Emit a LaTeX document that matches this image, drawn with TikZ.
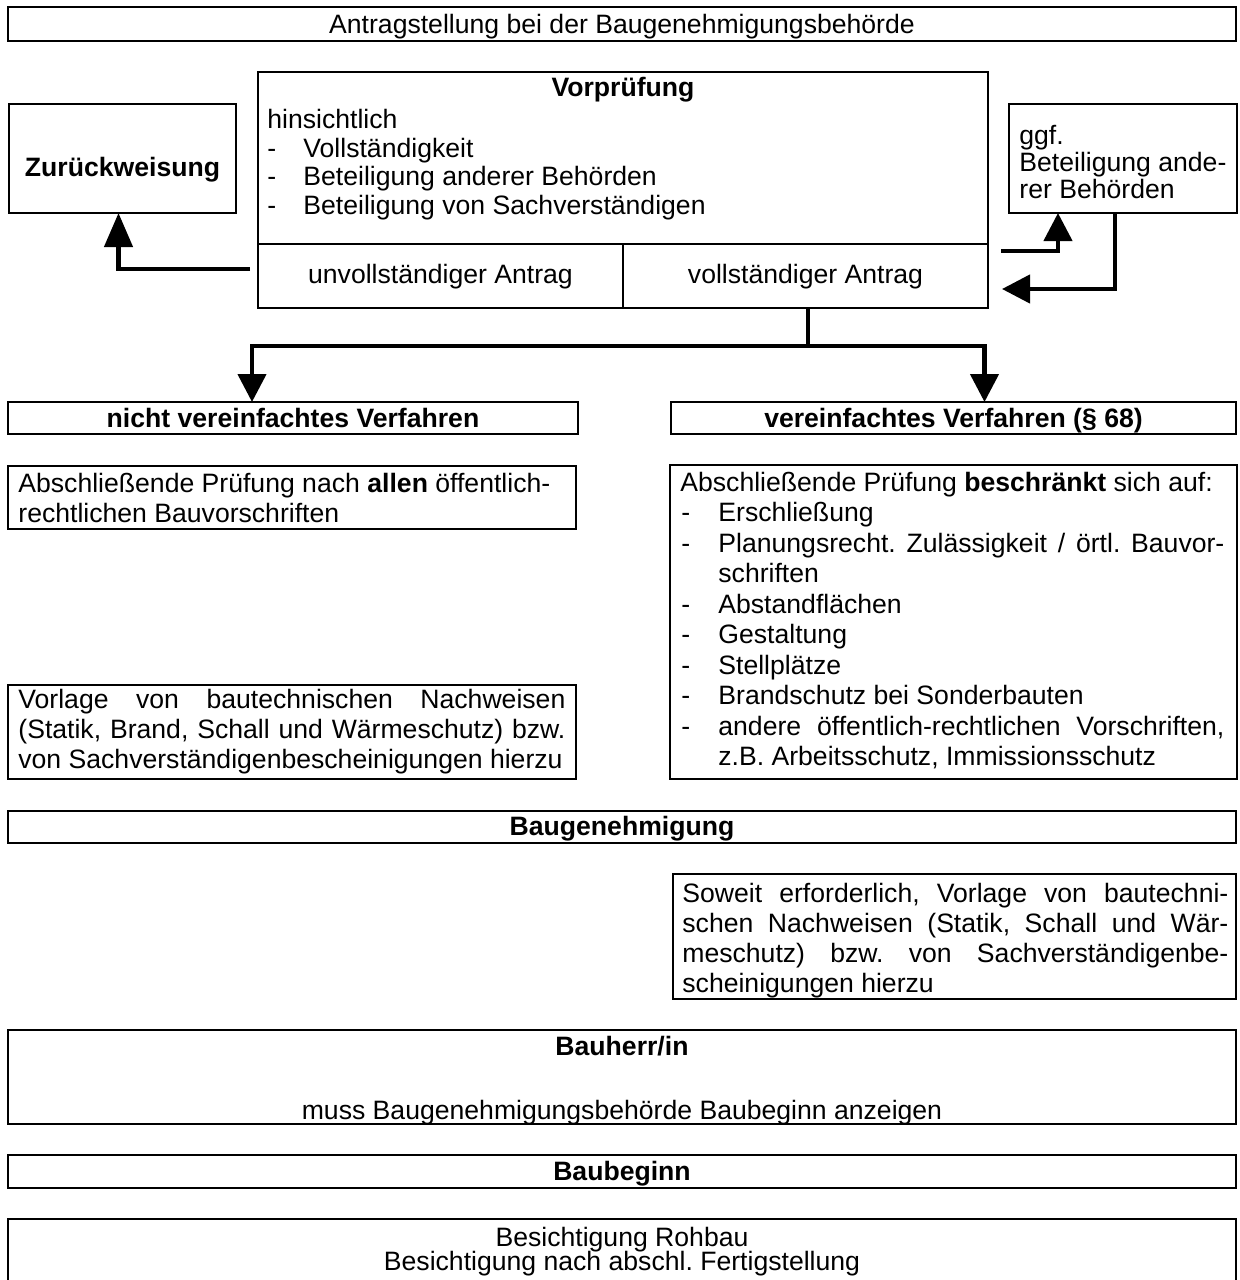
\documentclass[tikz,border=0pt]{standalone}
\usepackage{fontspec}
\setmainfont{Liberation Sans}
\usetikzlibrary{arrows.meta,calc}
\frenchspacing
\newcommand\BoxAt[5]{\node[box, minimum width={(#4-#2)*0.5pt}, minimum height={(#5-#3)*0.5pt}] (#1) at (#2,#3) {};}
\begin{document}
\begin{tikzpicture}[x=0.5pt,y=-0.5pt,
  every node/.style={font=\fontsize{13.3pt}{15.25pt}\selectfont\frenchspacing},
  box/.style={draw, line width=1.1pt, rectangle, inner sep=0pt, outer sep=0pt, anchor=north west},
  txt/.style={inner sep=0pt, anchor=base west},
  ctxt/.style={inner sep=0pt, anchor=base},
  conn/.style={line width=2.2pt, line join=miter},
  arr/.style={conn, -{Triangle[length=14pt,width=14pt]}},
  arrl/.style={conn, -{Triangle[length=17pt,width=14pt]}}]
\useasboundingbox (0,0) rectangle (1240,1280);
\clip (0,0) rectangle (1240,1280);

% top
\BoxAt{ant}{8}{7}{1236}{41}
\node[ctxt] (antT) at (622,33) {Antragstellung bei der Baugenehmigungsbehörde};

% Vorpruefung
\BoxAt{vp}{258}{72}{988}{308}
\BoxAt{unv}{258}{244}{623}{308}
\BoxAt{vol}{623}{244}{988}{308}
\node[ctxt] (vpT) at (623,96) {\textbf{Vorprüfung}};
\node[txt] (vp1) at (267,128) {hinsichtlich};
\node[txt] (vpd1) at (267,157) {-};
\node[txt] (vp2) at (303,157) {Vollständigkeit};
\node[txt] (vpd2) at (267,185) {-};
\node[txt] (vp3) at (303,185) {Beteiligung anderer Behörden};
\node[txt] (vpd3) at (267,214) {-};
\node[txt] (vp4) at (303,214) {Beteiligung von Sachverständigen};
\node[ctxt] (unvT) at (440.5,283) {unvollständiger Antrag};
\node[ctxt] (volT) at (805.5,283) {vollständiger Antrag};

% Zurueckweisung
\BoxAt{zur}{9}{104}{236}{213}
\node[ctxt] (zurT) at (122.5,176) {\textbf{Zurückweisung}};

% ggf
\BoxAt{ggf}{1009}{104}{1237}{213}
\node[txt] (ggf1) at (1019,144) {ggf.};
\node[txt] (ggf2) at (1019,171) {Beteiligung ande-};
\node[txt] (ggf3) at (1019,198) {rer Behörden};

% connectors top
\coordinate (zs) at (250,269);
\draw[arrl] (zs) -| ($(zur.south)+(-4,0)$);
\coordinate (g1) at (1001,251);
\draw[arr] (g1) -| ($(ggf.south)+(-65,0)$);
\coordinate (g2) at (1002,289);
\draw[arr] ($(ggf.south)+(-8,0)$) |- (g2);

% split
\coordinate (sp) at (808,346);
\draw[conn] (vol.south -| sp) -- (sp);

% procedure boxes
\BoxAt{nv}{8}{402}{578}{434}
\node[ctxt] (nvT) at (293,427) {\textbf{nicht vereinfachtes Verfahren}};
\BoxAt{ver}{671}{402}{1236}{434}
\node[ctxt] (verT) at (953.5,427) {\textbf{vereinfachtes Verfahren (§ 68)}};
\draw[arr] (sp) -| ($(nv.north)+(-41,0)$);
\draw[arr] (sp) -| ($(ver.north)+(31,0)$);

% left column
\BoxAt{ab}{8}{466}{576}{529}
\node[txt] (ab1) at (18,492) {Abschließende Prüfung nach \textbf{allen} öffentlich-};
\node[txt] (ab2) at (18,522) {rechtlichen Bauvorschriften};

\BoxAt{vo}{8}{685}{576}{779}
\node[txt] (vo1) at (18,708) {\makebox[273.5pt][s]{Vorlage von bautechnischen Nachweisen}};
\node[txt] (vo2) at (18,738) {\makebox[273.5pt][s]{(Statik, Brand, Schall und Wärmeschutz) bzw.}};
\node[txt] (vo3) at (18,768) {von Sachverständigenbescheinigungen hierzu};

% right column
\BoxAt{li}{670}{465}{1237}{779}
\node[txt] (li0) at (680,491) {Abschließende Prüfung \textbf{beschränkt} sich auf:};
\node[txt] (lid1) at (681,521.5) {-};
\node[txt] (li1) at (718,521.5) {Erschließung};
\node[txt] (lid2) at (681,552) {-};
\node[txt] (li2) at (718,552) {\makebox[253pt][s]{Planungsrecht. Zulässigkeit / örtl. Bauvor-}};
\node[txt] (li2b) at (718,582.5) {schriften};
\node[txt] (lid3) at (681,613) {-};
\node[txt] (li3) at (718,613) {Abstandflächen};
\node[txt] (lid4) at (681,643.5) {-};
\node[txt] (li4) at (718,643.5) {Gestaltung};
\node[txt] (lid5) at (681,674) {-};
\node[txt] (li5) at (718,674) {Stellplätze};
\node[txt] (lid6) at (681,704.5) {-};
\node[txt] (li6) at (718,704.5) {Brandschutz bei Sonderbauten};
\node[txt] (lid7) at (681,735) {-};
\node[txt] (li7) at (718,735) {\makebox[253pt][s]{andere öffentlich-rechtlichen Vorschriften,}};
\node[txt] (li7b) at (718,765.5) {z.B. Arbeitsschutz, Immissionsschutz};

% Baugenehmigung
\BoxAt{bg}{8}{811}{1236}{843}
\node[ctxt] (bgT) at (622,835) {\textbf{Baugenehmigung}};

\BoxAt{sw}{673}{874}{1236}{999}
\node[txt] (sw1) at (682,902) {\makebox[273pt][s]{Soweit erforderlich, Vorlage von bautechni-}};
\node[txt] (sw2) at (682,932) {\makebox[273pt][s]{schen Nachweisen (Statik, Schall und Wär-}};
\node[txt] (sw3) at (682,962) {\makebox[273pt][s]{meschutz) bzw. von Sachverständigenbe-}};
\node[txt] (sw4) at (682,992) {scheinigungen hierzu};

% Bauherr
\BoxAt{bh}{8}{1030}{1236}{1124}
\node[ctxt] (bhT) at (622,1055) {\textbf{Bauherr/in}};
\node[ctxt] (bh2) at (622,1119) {muss Baugenehmigungsbehörde Baubeginn anzeigen};

% Baubeginn
\BoxAt{bb}{8}{1155}{1236}{1188}
\node[ctxt] (bbT) at (622,1180) {\textbf{Baubeginn}};

% Besichtigung
\BoxAt{be}{8}{1219}{1236}{1310}
\node[ctxt] (be1) at (622,1246) {Besichtigung Rohbau};
\node[ctxt] (be2) at (622,1270) {Besichtigung nach abschl. Fertigstellung};
\end{tikzpicture}
\end{document}
